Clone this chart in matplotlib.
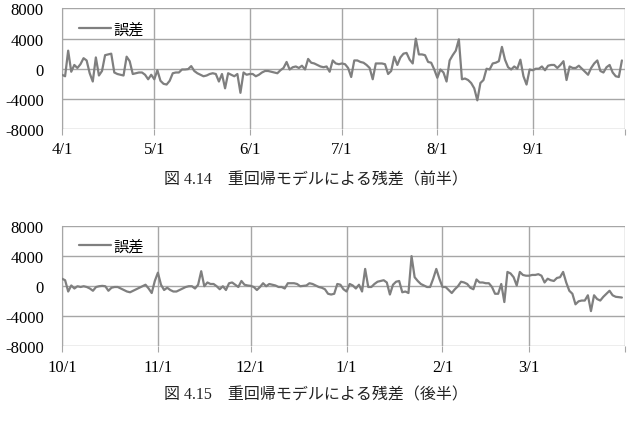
import numpy as np
import pandas as pd
import matplotlib
matplotlib.use("Agg")
import matplotlib.pyplot as plt

# residuals, first half (Apr-Sep) and second half (Oct-Mar), one value per day
first_err = [
    -800, -1000, 2400, -400, 500, 100, 600, 1400, 1100, -600,
    -1700, 1500, -900, -300, 1800, 1900, 2000, -500, -700, -800,
    -900, 1600, 1000, -700, -600, -500, -500, -800, -1400, -800,
    -1400, -200, -1600, -2000, -2100, -1600, -600, -500, -500, -100,
    -100, -50, 350, -300, -600, -800, -1000, -900, -700, -600,
    -700, -1700, -700, -2600, -600, -800, -1000, -700, -3200, -500,
    -800, -700, -700, -1000, -800, -500, -300, -300, -400, -500,
    -600, -200, 100, 900, -100, 200, 300, 100, 400, -100,
    1300, 800, 700, 500, 300, 200, 300, -400, 1100, 700,
    600, 700, 600, 100, -1100, 1100, 1100, 900, 800, 500,
    100, -1400, 700, 700, 700, 600, -700, -300, 1600, 500,
    1500, 2000, 2100, 1200, 700, 4000, 1900, 1900, 1800, 900,
    800, -100, -1200, -100, -500, -1700, 1100, 1800, 2400, 3900,
    -1400, -1300, -1500, -1900, -2600, -4200, -1900, -1500, 0, -100,
    700, 800, 1000, 2900, 1200, 200, -100, 300, 0, 1200,
    -1000, -2100, -100, -200, 0, 0, 300, -200, 400, 500,
    500, 100, 500, 1000, -1500, 300, 100, 100, 400, 0,
    -400, -800, 100, 700, 1100, -300, -500, 200, 500, -500,
    -1000, -1100, 1100,
]
second_err = [
    1000, 800, -700, 100, -300, 0, -100, 0, -100, -300,
    -600, -100, 0, 50, 0, -600, -200, -100, -100, -300,
    -500, -700, -800, -600, -400, -200, 0, 200, -300, -900,
    700, 1800, 200, -500, -200, -500, -700, -700, -500, -300,
    -100, 0, 0, -300, 200, 2000, 0, 500, 300, 300,
    0, -400, 0, -500, 400, 500, 200, -100, 700, 200,
    100, 50, -100, -500, -100, 400, 0, 300, 200, 100,
    -100, -100, -300, 400, 400, 400, 300, 0, 50, 100,
    400, 300, 100, -100, -200, -400, -1000, -1100, -1000, 300,
    200, -400, -700, 300, 100, -300, 200, -700, 2300, -100,
    -100, 300, 600, 700, 800, 500, -1100, 200, 600, 700,
    -800, -700, -900, 4000, 1200, 700, 300, 100, -100, -100,
    1000, 2300, 1000, -100, -100, -500, -900, -400, 0, 600,
    500, 300, -200, -400, 900, 500, 500, 400, 400, -100,
    -1000, -1000, 300, -2100, 1900, 1700, 1200, 100, 1900, 1500,
    1400, 1400, 1500, 1500, 1600, 1400, 500, 1000, 800, 700,
    1100, 1200, 1900, 500, -600, -1000, -2400, -2000, -1900, -1900,
    -1200, -3300, -1200, -1700, -1900, -1400, -1000, -600, -1200, -1400,
    -1450, -1500,
]
first_start, first_end = "2012-04-01", "2012-10-01"
second_start, second_end = "2012-10-01", "2013-04-01"
y_ticks = [-8000, -4000, 0, 4000, 8000]
captions = ["図 4.14\u3000重回帰モデルによる残差（前半）",
            "図 4.15\u3000重回帰モデルによる残差（後半）"]

FAM = ["Liberation Serif", "Noto Sans CJK JP", "DejaVu Sans"]
plt.rcParams["font.family"] = FAM
GRID = "#a6a6a6"
LINE = "#7f7f7f"

fig = plt.figure(figsize=(6.38, 4.27), dpi=100)
ax1 = fig.add_axes([0.0972, 0.6956, 0.8824, 0.2822])
ax2 = fig.add_axes([0.0972, 0.1862, 0.8824, 0.2822])

panels = [(ax1, first_err, first_start, first_end),
          (ax2, second_err, second_start, second_end)]
for ax, vals, start, end in panels:
    dates = pd.date_range(start, periods=len(vals), freq="D")
    ax.plot(dates, vals, color=LINE, lw=1.6, label="誤差", zorder=3,
            solid_joinstyle="round", solid_capstyle="round")
    lo, hi = pd.Timestamp(start), pd.Timestamp(end)
    ax.set_xlim(lo, hi)
    ax.set_ylim(-8000, 8000)
    ax.set_yticks(y_ticks)
    ax.set_yticklabels([str(v) for v in y_ticks])
    months = pd.date_range(lo, hi, freq="MS")
    ax.set_xticks(months)
    # last gridline (end of period) carries no label
    ax.set_xticklabels([f"{m.month}/{m.day}" for m in months[:-1]] + [""])
    ax.grid(True, color=GRID, lw=1.0)
    for s in ("top", "right", "bottom"):
        ax.spines[s].set_visible(False)
    ax.spines["left"].set_color(GRID)
    ax.tick_params(axis="y", length=0, pad=13, labelsize=12)
    ax.tick_params(axis="x", length=4, color=GRID, pad=5, labelsize=12)
    ax.legend(loc="upper left", bbox_to_anchor=(0.03, 0.89), frameon=False,
              borderpad=0, borderaxespad=0, handlelength=2.1, handletextpad=0.15,
              prop={"family": FAM, "size": 11})

fig.text(0.495, 1 - 180 / 427, captions[0], ha="center", va="center",
         fontsize=11.5, color="#222222")
fig.text(0.495, 1 - 395 / 427, captions[1], ha="center", va="center",
         fontsize=11.5, color="#222222")

fig.savefig("out.png", dpi=100, facecolor="white")
